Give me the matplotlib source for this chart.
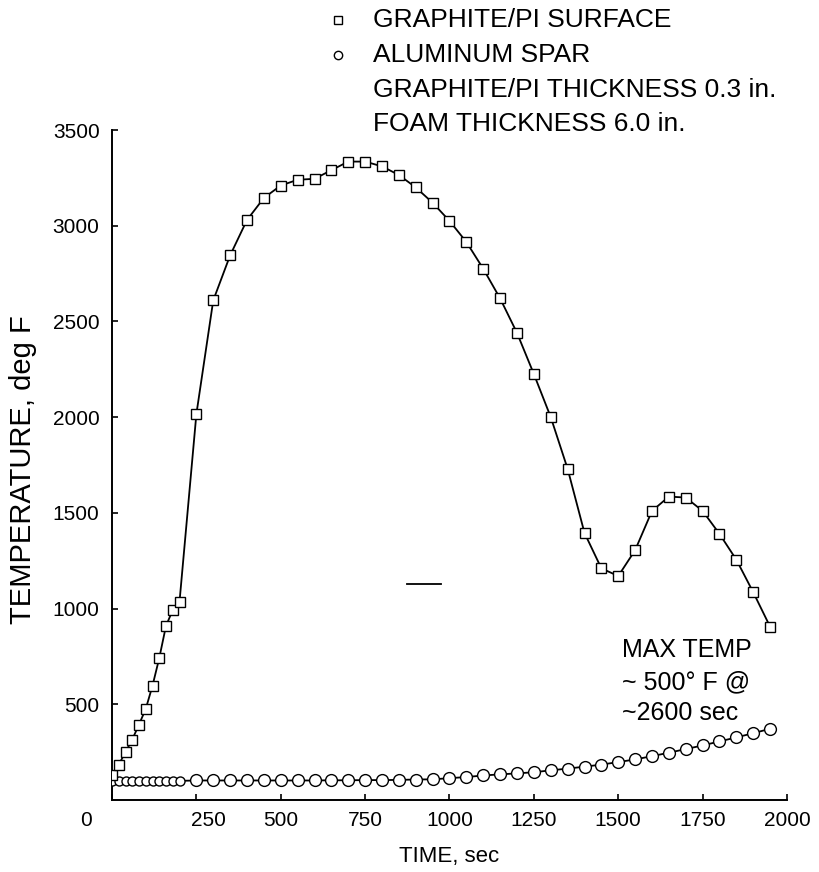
import numpy as np
import matplotlib
matplotlib.use("Agg")
from matplotlib import pyplot as plt
from matplotlib.transforms import ScaledTranslation

plt.rcParams['font.family'] = ['Liberation Sans', 'DejaVu Sans']

# graphite/PI surface temperature (deg F) vs time (sec)
graphite_t = [0, 20, 40, 60, 80, 100, 120, 140, 160, 180, 200,
              250, 300, 350, 400, 450, 500, 550, 600, 650, 700, 750, 800,
              850, 900, 950, 1000, 1050, 1100, 1150, 1200, 1250, 1300, 1350,
              1400, 1450, 1500, 1550, 1600, 1650, 1700, 1750, 1800, 1850,
              1900, 1950]
graphite_T = [130, 185, 250, 316, 394, 476, 597, 741, 910, 992, 1035,
              2016, 2610, 2845, 3030, 3145, 3210, 3240, 3245, 3290, 3335,
              3335, 3310, 3265, 3200, 3120, 3025, 2915, 2775, 2620, 2440,
              2225, 2000, 1730, 1395, 1210, 1170, 1305, 1510, 1585, 1580,
              1510, 1390, 1255, 1085, 905]

# aluminum spar temperature
spar_t = [0, 20, 40, 60, 80, 100, 120, 140, 160, 180, 200,
          250, 300, 350, 400, 450, 500, 550, 600, 650, 700, 750, 800, 850,
          900, 950, 1000, 1050, 1100, 1150, 1200, 1250, 1300, 1350, 1400,
          1450, 1500, 1550, 1600, 1650, 1700, 1750, 1800, 1850, 1900, 1950]
spar_T = [100, 100, 100, 100, 100, 100, 100, 100, 100, 100, 100,
          102, 102, 102, 102, 102, 102, 102, 102, 103, 103, 104, 104, 105,
          107, 108, 114, 120, 128, 134, 139, 145, 155, 164, 174, 185, 198,
          212, 229, 247, 266, 285, 306, 327, 349, 372]

xticks = [0, 250, 500, 750, 1000, 1250, 1500, 1750, 2000]
yticks = [500, 1000, 1500, 2000, 2500, 3000, 3500]

legend_lines = ["GRAPHITE/PI SURFACE", "ALUMINUM SPAR",
                "GRAPHITE/PI THICKNESS 0.3 in.", "FOAM THICKNESS 6.0 in."]
note = "MAX TEMP\n~ 500\u00b0 F @\n~2600 sec"

fig = plt.figure(figsize=(8.2, 8.72), dpi=100)
ax = fig.add_axes([112 / 820, 1 - 800 / 872, 675 / 820, 670 / 872])

st = np.array(spar_t)
sT = np.array(spar_T)
ax.plot(st, sT, color='black', lw=1.3, zorder=2)
early = st <= 200
ax.plot(st[early], sT[early], ls='none', marker='o', ms=6.5, mfc='white',
        mec='black', mew=1.0, zorder=3)
ax.plot(st[~early], sT[~early], ls='none', marker='o', ms=8.5, mfc='white',
        mec='black', mew=1.0, zorder=3)

ax.plot(graphite_t, graphite_T, color='black', lw=1.3, marker='s', ms=7.5,
        mfc='white', mec='black', mew=1.0, zorder=4)

# stray dash in the original scan
ax.plot([875, 975], [1127, 1127], color='black', lw=1.3)

ax.set_xlim(0, 2000)
ax.set_ylim(0, 3500)
ax.spines['top'].set_visible(False)
ax.spines['right'].set_visible(False)
for s in ['left', 'bottom']:
    ax.spines[s].set_linewidth(1.4)

ax.set_xticks(xticks)
ax.set_xticklabels([str(v) for v in xticks])
ax.set_yticks(yticks)
ax.set_yticklabels([str(v) for v in yticks])
ax.tick_params(direction='in', length=4, width=1.2, labelsize=15)
ax.tick_params(axis='x', pad=8)
ax.tick_params(axis='y', pad=9)
# the "0" sits at the corner, left of the axis; "250" is nudged right
xl = ax.get_xticklabels()
xl[0].set_transform(xl[0].get_transform() + ScaledTranslation(-26 / 100, 0, fig.dpi_scale_trans))
xl[1].set_transform(xl[1].get_transform() + ScaledTranslation(12 / 100, 0, fig.dpi_scale_trans))

ax.set_xlabel("TIME, sec", fontsize=16)
ax.set_ylabel("TEMPERATURE, deg F", fontsize=21)
ax.xaxis.set_label_coords(0.5, -0.068)
ax.yaxis.set_label_coords(-0.111, 0.4925)

ax.text(1511, 617, note, fontsize=18, va='center', ha='left', linespacing=1.4)

# key above the plot
ys = [20, 55, 90, 124]
for txt, y in zip(legend_lines, ys):
    fig.text(373 / 820, 1 - y / 872, txt, fontsize=19, va='center', ha='left')
ax.plot([338 / 820], [1 - ys[0] / 872], marker='s', ms=6, mfc='white', mec='black',
        transform=fig.transFigure, clip_on=False)
ax.plot([338 / 820], [1 - ys[1] / 872], marker='o', ms=6, mfc='white', mec='black',
        transform=fig.transFigure, clip_on=False)

fig.savefig('out.png', dpi=100)
